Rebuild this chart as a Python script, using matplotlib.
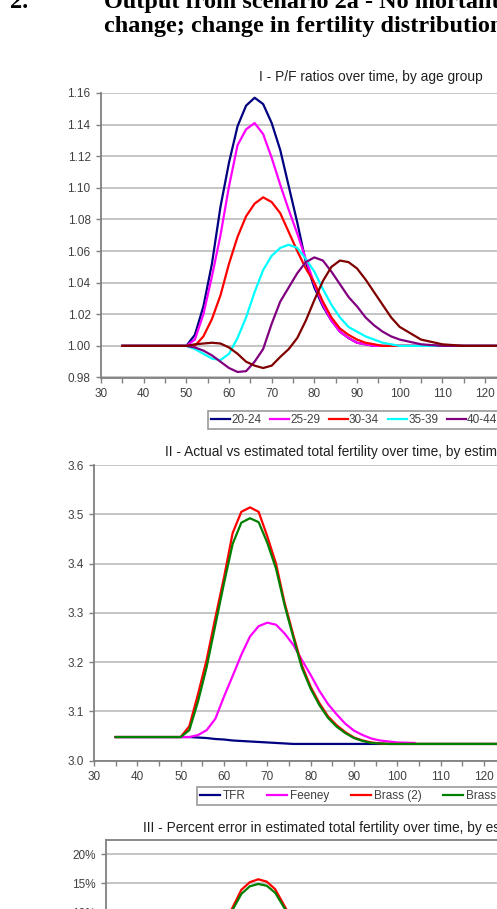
import numpy as np
import matplotlib
matplotlib.use("Agg")
import matplotlib.pyplot as plt
from matplotlib.ticker import MultipleLocator, FuncFormatter

plt.rcParams['font.family'] = ['Liberation Sans', 'DejaVu Sans']

nan = np.nan

# --- chart I: P/F ratios by age group ---
years1 = [35, 50, 52, 54, 56, 58, 60, 62, 64, 66, 68, 70, 72, 74, 76, 78, 80,
          82, 84, 86, 88, 90, 92, 94, 96, 98, 100, 105, 110, 115, 140]
pf_20_24 = [1.000, 1.000, 1.007, 1.025, 1.052, 1.088, 1.116, 1.139, 1.152, 1.157, 1.153,
            1.141, 1.124, 1.101, 1.078, 1.053, 1.037, 1.025, 1.016, 1.009, 1.005, 1.002,
            1.001, 1.000, 1.000, 1.000, 1.000, 1.000, 1.000, 1.000, 1.000]
pf_25_29 = [1.000, 1.000, 1.004, 1.020, 1.044, 1.070, 1.101, 1.127, 1.137, 1.141, 1.134,
            1.119, 1.102, 1.086, 1.071, 1.055, 1.039, 1.026, 1.016, 1.009, 1.005, 1.002,
            1.001, 1.000, 1.000, 1.000, 1.000, 1.000, 1.000, 1.000, 1.000]
pf_30_34 = [1.000, 1.000, 1.000, 1.006, 1.017, 1.032, 1.052, 1.069, 1.082, 1.090, 1.094,
            1.091, 1.084, 1.072, 1.060, 1.049, 1.040, 1.028, 1.018, 1.011, 1.007, 1.004,
            1.002, 1.001, 1.000, 1.000, 1.000, 1.000, 1.000, 1.000, 1.000]
pf_35_39 = [1.000, 1.000, 0.998, 0.995, 0.992, 0.991, 0.995, 1.005, 1.018, 1.034, 1.048,
            1.057, 1.062, 1.064, 1.062, 1.055, 1.047, 1.036, 1.026, 1.018, 1.012, 1.009,
            1.006, 1.004, 1.002, 1.001, 1.000, 1.000, 1.000, 1.000, 1.000]
pf_40_44 = [1.000, 1.000, 0.999, 0.997, 0.994, 0.990, 0.986, 0.9835, 0.984, 0.990, 0.998,
            1.014, 1.028, 1.037, 1.046, 1.053, 1.056, 1.054, 1.047, 1.039, 1.031, 1.025,
            1.018, 1.013, 1.009, 1.006, 1.004, 1.001, 1.000, 1.000, 1.000]
pf_45_49 = [1.000, 1.000, 1.001, 1.0015, 1.002, 1.0015, 0.999, 0.995, 0.990, 0.9875, 0.986,
            0.9875, 0.993, 0.998, 1.005, 1.016, 1.029, 1.041, 1.050, 1.054, 1.053, 1.049,
            1.042, 1.034, 1.026, 1.018, 1.012, 1.004, 1.001, 1.000, 1.000]
groups = ['20-24', '25-29', '30-34', '35-39', '40-44', '45-49']
colors1 = ['#000080', '#ff00ff', '#ff0000', '#00ffff', '#800080', '#800000']

# --- chart II: actual vs estimated TFR ---
years2 = [35, 50, 52, 54, 56, 58, 60, 62, 64, 66, 68, 70, 72, 74, 76, 78, 80,
          82, 84, 86, 88, 90, 92, 94, 96, 98, 100, 104, 140]
tfr = [3.048, 3.048, 3.048, 3.047, 3.046, 3.044, 3.043, 3.041, 3.040, 3.039, 3.038,
       3.037, 3.036, 3.035, 3.034, 3.034, 3.034, 3.034, 3.034, 3.034, 3.034, 3.034,
       3.034, 3.034, 3.034, 3.034, 3.034, 3.034, 3.034]
feeney = [3.048, 3.048, 3.048, 3.052, 3.062, 3.085, 3.130, 3.172, 3.215, 3.252, 3.273,
          3.280, 3.276, 3.258, 3.235, 3.204, 3.174, 3.142, 3.115, 3.094, 3.075, 3.061,
          3.052, 3.045, 3.041, 3.039, 3.037, 3.036, nan]
brass2 = [3.048, 3.048, 3.070, 3.135, 3.205, 3.290, 3.372, 3.462, 3.505, 3.514, 3.505,
          3.455, 3.400, 3.320, 3.255, 3.193, 3.150, 3.117, 3.090, 3.072, 3.058, 3.047,
          3.041, 3.037, 3.035, 3.034, 3.034, 3.034, 3.034]
brass3 = [3.048, 3.048, 3.062, 3.120, 3.190, 3.275, 3.360, 3.440, 3.483, 3.492, 3.484,
          3.442, 3.390, 3.315, 3.250, 3.188, 3.146, 3.113, 3.087, 3.069, 3.056, 3.046,
          3.040, 3.036, 3.035, 3.034, 3.034, 3.034, 3.034]
names2 = ['TFR', 'Feeney', 'Brass (2)', 'Brass (3)']
colors2 = ['#000080', '#ff00ff', '#ff0000', '#008000']

# --- chart III: percent error ---
years3 = [35, 50, 52, 54, 56, 58, 60, 62, 64, 66, 68, 70, 72, 74, 76, 78, 80,
          82, 84, 86, 88, 90, 92, 94, 96, 98, 100, 140]
err_feeney = [0, 0, 0, 0.2, 0.5, 1.3, 2.9, 4.3, 5.8, 7.0, 7.7, 8.0, 7.9, 7.3, 6.6, 5.6,
              4.6, 3.6, 2.7, 2.0, 1.4, 0.9, 0.6, 0.4, 0.2, 0.1, 0.1, 0]
err_brass2 = [0, 0, 0.7, 2.9, 5.2, 8.1, 11.0, 13.9, 15.2, 15.7, 15.3, 14.0, 11.4, 8.8,
              7.0, 5.2, 3.8, 2.7, 1.8, 1.2, 0.8, 0.4, 0.2, 0.1, 0, 0, 0, 0]
err_brass3 = [0, 0, 0.5, 2.4, 4.7, 7.6, 10.6, 13.2, 14.5, 14.9, 14.6, 13.4, 11.0, 8.5,
              6.8, 5.0, 3.6, 2.6, 1.7, 1.1, 0.7, 0.4, 0.2, 0.1, 0, 0, 0, 0]

W, H = 497, 909
fig = plt.figure(figsize=(W / 100, H / 100), dpi=100)
fig.patch.set_facecolor('white')

grid_c = '#c0c0c0'
axis_c = '#808080'
tick_c = '#404040'


def px_axes(left, top, bottom, width):
    return fig.add_axes([left / W, 1 - bottom / H, width / W, (bottom - top) / H])


def style(ax):
    for s in ['top', 'right']:
        ax.spines[s].set_visible(False)
    for s in ['left', 'bottom']:
        ax.spines[s].set_color(axis_c)
        ax.spines[s].set_linewidth(1.3)
    ax.yaxis.grid(True, color=grid_c, lw=1.3)
    ax.set_axisbelow(True)
    ax.xaxis.set_major_locator(MultipleLocator(10))
    ax.xaxis.set_minor_locator(MultipleLocator(5))
    # the chart runs past the page edge; labels past 120 are off the page anyway
    ax.xaxis.set_major_formatter(FuncFormatter(lambda v, p: f'{v:.0f}' if v <= 120 else ''))
    ax.tick_params(which='both', direction='out', length=3.5, width=1, color=axis_c,
                   labelsize=8.5, labelcolor=tick_c, pad=4)
    ax.set_xlim(30, 140)


def style_legend(leg):
    leg.get_frame().set_edgecolor(axis_c)
    leg.get_frame().set_linewidth(1.2)
    for t in leg.get_texts():
        t.set_color(tick_c)


# chart I
ax1 = px_axes(101, 93, 377.5, 110 * 4.267)
for vals, lab, c in zip([pf_20_24, pf_25_29, pf_30_34, pf_35_39, pf_40_44, pf_45_49],
                        groups, colors1):
    ax1.plot(years1, vals, color=c, lw=1.6, label=lab, solid_joinstyle='round')
ax1.set_ylim(0.98, 1.16)
ax1.yaxis.set_major_locator(MultipleLocator(0.02))
ax1.yaxis.set_major_formatter(FuncFormatter(lambda v, p: f'{v:.2f}'))
style(ax1)
fig.text(371 / W, 1 - 77 / H, 'I - P/F ratios over time, by age group',
         ha='center', va='center', fontsize=9.9, color='#202020')
leg1 = fig.legend(*ax1.get_legend_handles_labels(), loc='upper left',
                  bbox_to_anchor=(208 / W, 1 - 411 / H), ncol=6, fontsize=8.5,
                  frameon=True, fancybox=False, handlelength=1.6, handletextpad=0.1,
                  columnspacing=0.75, borderpad=0.25, borderaxespad=0)
style_legend(leg1)

# chart II
ax2 = px_axes(94, 465, 760.7, 110 * 4.333)
for vals, lab, c in zip([tfr, feeney, brass2, brass3], names2, colors2):
    ax2.plot(years2, vals, color=c, lw=1.6, label=lab, solid_joinstyle='round')
ax2.set_ylim(3.0, 3.6)
ax2.yaxis.set_major_locator(MultipleLocator(0.1))
ax2.yaxis.set_major_formatter(FuncFormatter(lambda v, p: f'{v:.1f}'))
style(ax2)
fig.text(165 / W, 1 - 452 / H,
         'II - Actual vs estimated total fertility over time, by estimation method',
         ha='left', va='center', fontsize=9.9, color='#202020')
leg2 = fig.legend(*ax2.get_legend_handles_labels(), loc='upper left',
                  bbox_to_anchor=(197 / W, 1 - 787 / H), ncol=4, fontsize=8.5,
                  frameon=True, fancybox=False, handlelength=1.7, handletextpad=0.25,
                  columnspacing=1.8, borderpad=0.25, borderaxespad=0)
style_legend(leg2)

# chart III (its lower half is below the page)
ax3 = px_axes(106, 840, 1000.6, 110 * 4.23)
for vals, lab, c in zip([err_feeney, err_brass2, err_brass3], names2[1:], colors2[1:]):
    ax3.plot(years3, vals, color=c, lw=1.6, label=lab, solid_joinstyle='round')
ax3.set_ylim(-5, 22.4)
ax3.yaxis.set_major_locator(MultipleLocator(5))
ax3.yaxis.set_major_formatter(FuncFormatter(lambda v, p: f'{v:.0f}%'))
style(ax3)
ax3.tick_params(axis='x', labelbottom=False)
ax3.spines['top'].set_visible(True)
ax3.spines['top'].set_color(axis_c)
ax3.spines['top'].set_linewidth(1.3)
fig.text(143 / W, 1 - 828 / H,
         'III - Percent error in estimated total fertility over time, by estimation method',
         ha='left', va='center', fontsize=9.9, color='#202020')

# page heading
head = dict(ha='left', va='baseline', fontsize=17.5, fontweight='bold',
            family='Liberation Serif')
fig.text(10 / W, 1 - 8 / H, '2.', **head)
fig.text(104 / W, 1 - 8 / H, 'Output from scenario 2a - No mortality', **head)
fig.text(104 / W, 1 - 32 / H, 'change; change in fertility distribution', **head)

fig.savefig('out.png', dpi=100)
